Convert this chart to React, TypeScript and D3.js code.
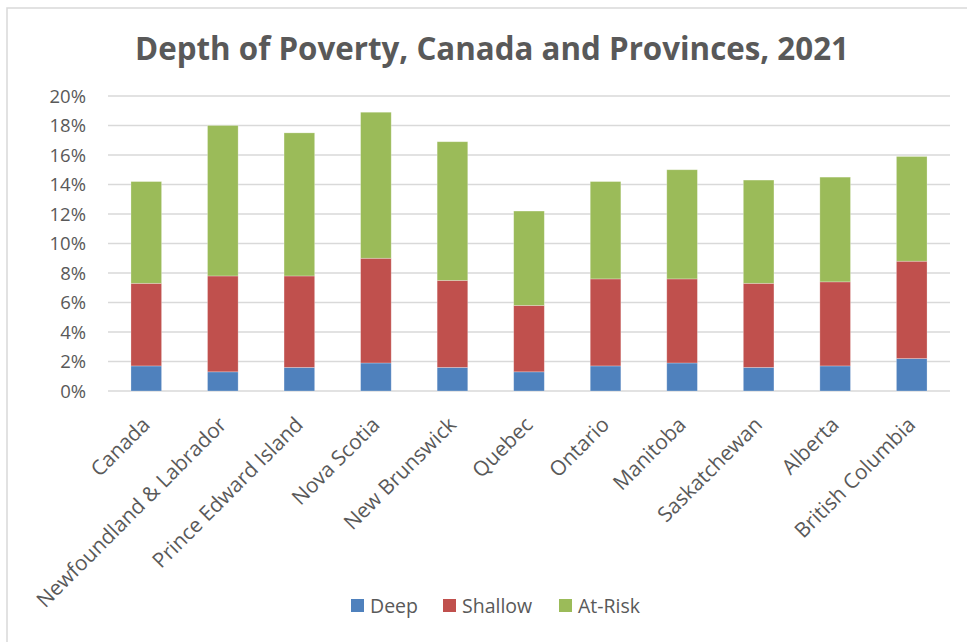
import React from "react";
import * as d3 from "d3";

const categories = [
  "Canada",
  "Newfoundland & Labrador",
  "Prince Edward Island",
  "Nova Scotia",
  "New Brunswick",
  "Quebec",
  "Ontario",
  "Manitoba",
  "Saskatchewan",
  "Alberta",
  "British Columbia",
];
const deep = [1.7, 1.3, 1.6, 1.9, 1.6, 1.3, 1.7, 1.9, 1.6, 1.7, 2.2];
const shallow = [5.6, 6.5, 6.2, 7.1, 5.9, 4.5, 5.9, 5.7, 5.7, 5.7, 6.6];
const atRisk = [6.9, 10.2, 9.7, 9.9, 9.4, 6.4, 6.6, 7.4, 7.0, 7.1, 7.1];
const seriesNames = ["Deep", "Shallow", "At-Risk"];
const seriesColors = ["#4F81BD", "#C0504D", "#9BBB59"];
const yTicks = [0, 2, 4, 6, 8, 10, 12, 14, 16, 18, 20];

export default function App() {
  const W = 967, H = 642;
  const left = 108, right = 950, top = 96, bottom = 391;
  const font = "'Open Sans', sans-serif";
  const x = d3.scaleBand<string>().domain(categories).range([left, right]).paddingInner(0.6).paddingOuter(0.3);
  const y = d3.scaleLinear().domain([0, 20]).range([bottom, top]);
  const rows = categories.map((c, i) => ({ cat: c, Deep: deep[i], Shallow: shallow[i], "At-Risk": atRisk[i] }));
  const stacked = d3.stack<any>().keys(seriesNames)(rows);
  const legendX = [351, 443, 559];
  return (
    <svg width={W} height={H} style={{ position: "absolute", left: 0, top: 0, background: "#fff" }}>
      <rect x={7} y={8} width={W + 10} height={H + 10} fill="#fff" stroke="#d9d9d9" strokeWidth={1.5} />
      <text x={492} y={60} textAnchor="middle" fontFamily={font} fontWeight="bold" fontSize={31.3} fill="#595959">
        Depth of Poverty, Canada and Provinces, 2021
      </text>
      {yTicks.map((t) => (
        <g key={t}>
          <line x1={left} x2={right} y1={y(t)} y2={y(t)} stroke="#d9d9d9" strokeWidth={1.5} />
          <text x={86} y={y(t) + 6.5} textAnchor="end" fontFamily={font} fontSize={18.5} fill="#595959">
            {t}%
          </text>
        </g>
      ))}
      {stacked.map((s, si) => (
        <g key={s.key} fill={seriesColors[si]}>
          {s.map((d, i) => (
            <rect
              key={i}
              x={x(categories[i])}
              width={x.bandwidth()}
              y={y(d[1])}
              height={y(d[0]) - y(d[1])}
              stroke="#ffffff"
              strokeOpacity={0.35}
              strokeWidth={0.75}
            />
          ))}
        </g>
      ))}
      {categories.map((c) => {
        const cx = (x(c) as number) + x.bandwidth() / 2 + 5;
        return (
          <text
            key={c}
            transform={`translate(${cx},${426}) rotate(-45)`}
            textAnchor="end"
            fontFamily={font}
            fontSize={20.8}
            fill="#595959"
          >
            {c}
          </text>
        );
      })}
      {seriesNames.map((n, i) => (
        <g key={n}>
          <rect x={legendX[i]} y={599} width={13} height={13} fill={seriesColors[i]} />
          <text x={legendX[i] + 19} y={613} fontFamily={font} fontSize={19.5} fill="#595959">
            {n}
          </text>
        </g>
      ))}
    </svg>
  );
}
